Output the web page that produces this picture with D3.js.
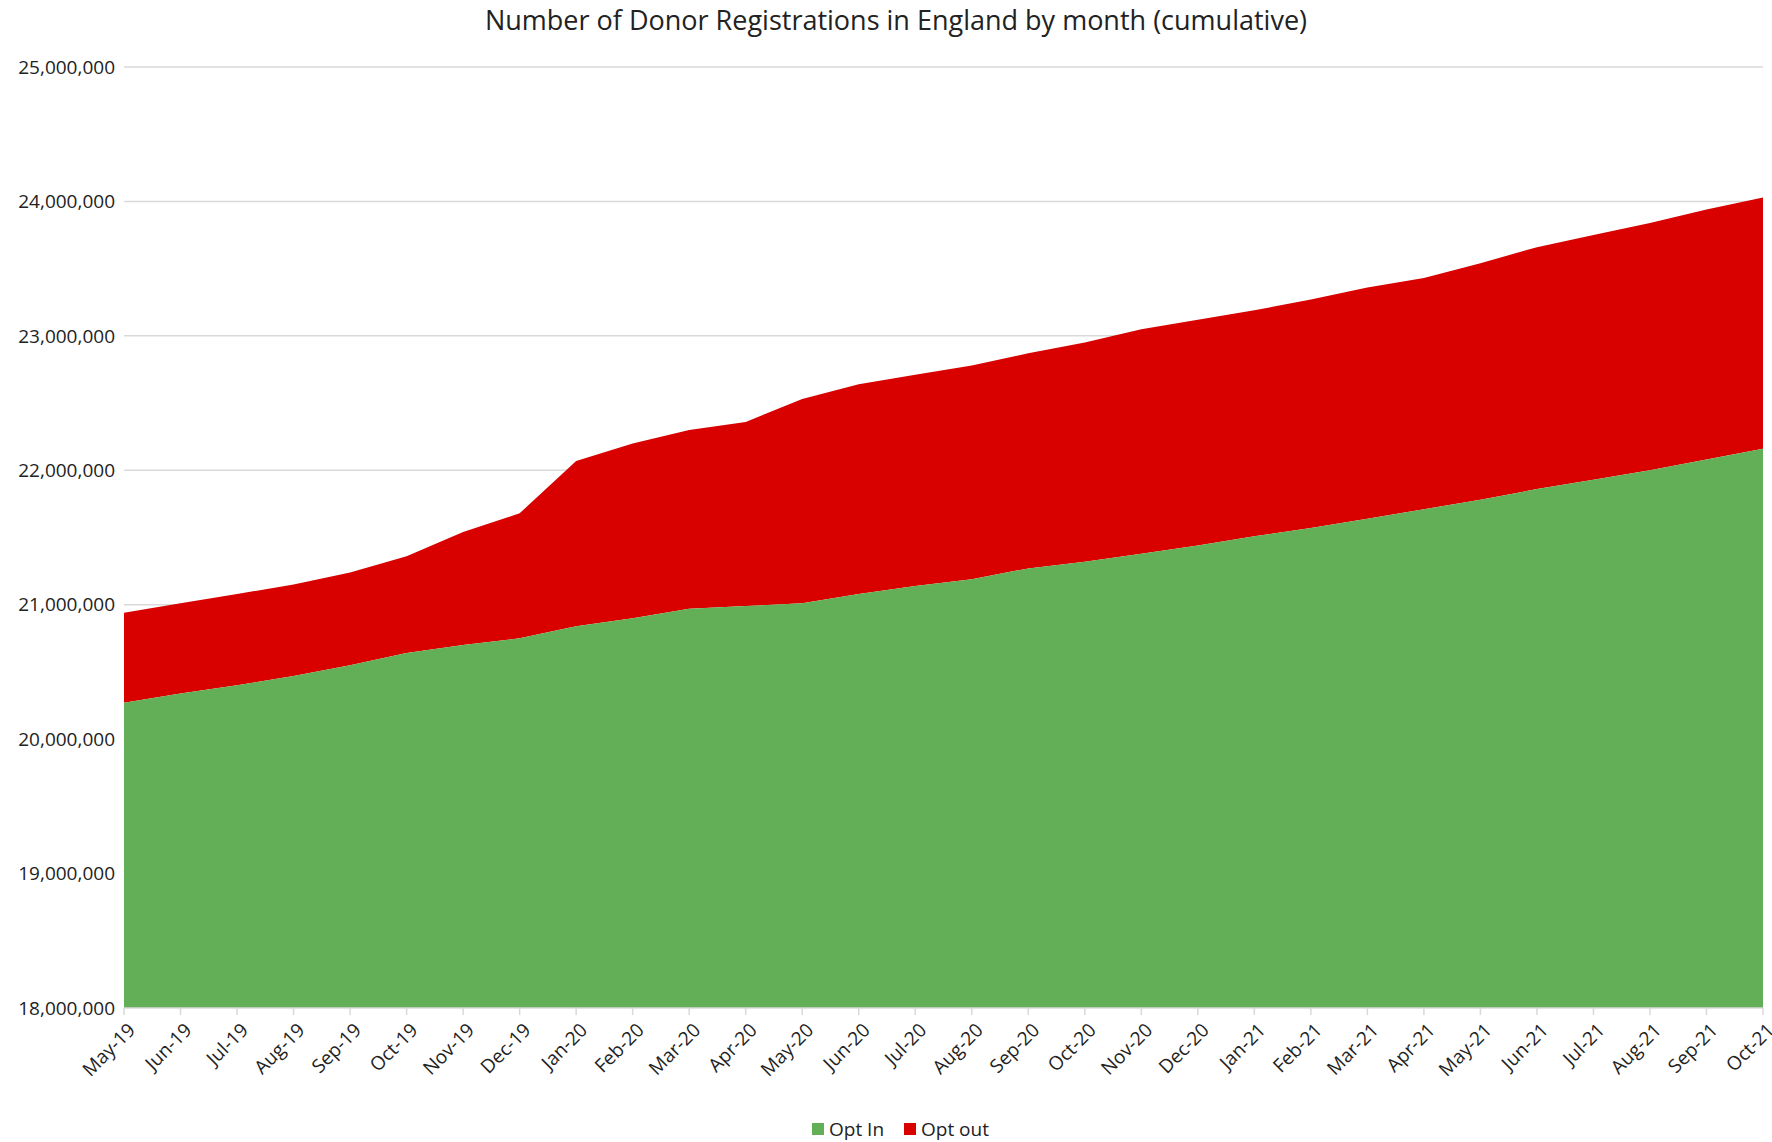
<!DOCTYPE html>
<html><head><meta charset="utf-8">
<script src="https://cdn.jsdelivr.net/npm/d3@7.9.0/dist/d3.min.js"></script>
<style>body{margin:0;background:#fff}text{font-family:"Open Sans",sans-serif;fill:#222}</style>
</head><body><svg id="chart" width="1772" height="1142"></svg>
<script>
// months on the x axis
const months = ["May-19","Jun-19","Jul-19","Aug-19","Sep-19","Oct-19","Nov-19","Dec-19",
  "Jan-20","Feb-20","Mar-20","Apr-20","May-20","Jun-20","Jul-20","Aug-20","Sep-20","Oct-20","Nov-20","Dec-20",
  "Jan-21","Feb-21","Mar-21","Apr-21","May-21","Jun-21","Jul-21","Aug-21","Sep-21","Oct-21"];
// cumulative opt-in registrations (millions)
const optIn = [20.27,20.34,20.40,20.47,20.55,20.64,20.70,20.75,20.84,20.90,20.97,20.99,21.01,21.08,21.14,21.19,
  21.27,21.32,21.38,21.44,21.51,21.57,21.64,21.71,21.78,21.86,21.93,22.00,22.08,22.16];
// cumulative opt-out registrations (millions)
const optOut = [0.67,0.67,0.68,0.68,0.69,0.72,0.84,0.93,1.23,1.30,1.33,1.37,1.52,1.56,1.57,1.59,
  1.60,1.63,1.67,1.68,1.68,1.70,1.72,1.72,1.76,1.80,1.82,1.84,1.86,1.87];
const yTicks = [18,19,20,21,22,23,24,25];

const svg = d3.select("#chart");
const m = {left:124, right:1763, top:67, bottom:1008};
const x = d3.scalePoint().domain(months).range([m.left, m.right]);
const y = d3.scaleLinear().domain([18,25]).range([m.bottom, m.top]);

const rows = months.map((mo,i)=>({mo, a:optIn[i], b:optIn[i]+optOut[i]}));

// grid
svg.append("g").selectAll("line").data(yTicks.slice(1)).join("line")
  .attr("x1",m.left).attr("x2",m.right).attr("y1",d=>y(d)).attr("y2",d=>y(d))
  .attr("stroke","#d9d9d9").attr("stroke-width",1.5);

svg.append("path").datum(rows).attr("fill","#d90000")
  .attr("d", d3.area().x(d=>x(d.mo)).y0(d=>y(d.a)).y1(d=>y(d.b)));
svg.append("path").datum(rows).attr("fill","#63af57")
  .attr("d", d3.area().x(d=>x(d.mo)).y0(y(18)).y1(d=>y(d.a)));

// y axis labels
svg.append("g").selectAll("text").data(yTicks).join("text")
  .attr("x",m.left-9).attr("y",d=>y(d)).attr("dy","0.35em").attr("text-anchor","end")
  .attr("font-size",19).text(d=>d3.format(",")(d*1e6));

// x axis
svg.append("line").attr("x1",m.left).attr("x2",m.right).attr("y1",m.bottom).attr("y2",m.bottom)
  .attr("stroke","#d9d9d9").attr("stroke-width",1.5);
svg.append("g").selectAll("line").data(months).join("line")
  .attr("x1",d=>x(d)).attr("x2",d=>x(d)).attr("y1",m.bottom).attr("y2",m.bottom+7)
  .attr("stroke","#d9d9d9").attr("stroke-width",1.5);
svg.append("g").selectAll("text").data(months).join("text")
  .attr("transform",d=>`translate(${x(d)+3},${m.bottom+14}) rotate(-45)`)
  .attr("text-anchor","end").attr("dy","0.7em").attr("font-size",19).text(d=>d);

svg.append("text").attr("x",896).attr("y",30).attr("text-anchor","middle")
  .attr("font-size",27).text("Number of Donor Registrations in England by month (cumulative)");

// legend
const leg = [{k:"Opt In",c:"#63af57",x:812},{k:"Opt out",c:"#d90000",x:904}];
const lg = svg.append("g").selectAll("g").data(leg).join("g")
  .attr("transform",d=>`translate(${d.x},1129)`);
lg.append("rect").attr("x",0).attr("y",-6).attr("width",12).attr("height",12).attr("fill",d=>d.c);
lg.append("text").attr("x",17).attr("dy","0.35em").attr("font-size",19).text(d=>d.k);
</script></body></html>
